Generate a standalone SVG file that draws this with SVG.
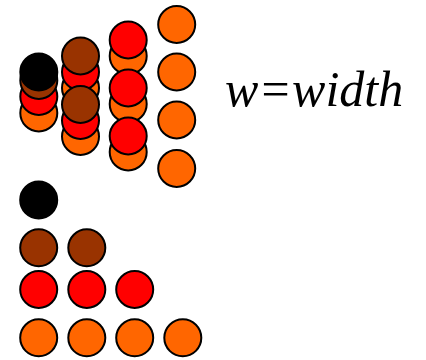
<svg xmlns="http://www.w3.org/2000/svg" width="426" height="360" viewBox="0 0 426 360">
<style>
circle{stroke:#000;stroke-width:2}
.o{fill:#FF6600}.r{fill:#FF0000}.b{fill:#993300}.k{fill:#000}
text{font-family:"Liberation Serif","Times New Roman",serif;font-style:italic;font-size:50px;fill:#000}
</style>
<rect width="426" height="360" fill="#fff"/>
<g id="stack-col1">
<circle class="o" cx="38.8" cy="113" r="18.5"/>
<circle class="r" cx="38.8" cy="96.5" r="18.5"/>
<circle class="b" cx="38.8" cy="80.5" r="18.5"/>
<circle class="k" cx="38.8" cy="72" r="18.5"/>
</g>
<g id="stack-col2">
<circle class="o" cx="80.5" cy="88" r="18.5"/>
<circle class="r" cx="80.5" cy="72" r="18.5"/>
<circle class="b" cx="80.5" cy="56" r="18.5"/>
<circle class="o" cx="80.5" cy="136.5" r="18.5"/>
<circle class="r" cx="80.5" cy="120.5" r="18.5"/>
<circle class="b" cx="80.5" cy="104.5" r="18.5"/>
</g>
<g id="stack-col3">
<circle class="o" cx="128.2" cy="56" r="18.5"/>
<circle class="r" cx="128.2" cy="40" r="18.5"/>
<circle class="o" cx="128.2" cy="104" r="18.5"/>
<circle class="r" cx="128.2" cy="88" r="18.5"/>
<circle class="o" cx="128.2" cy="152" r="18.5"/>
<circle class="r" cx="128.2" cy="136" r="18.5"/>
</g>
<g id="stack-col4">
<circle class="o" cx="176.7" cy="24.5" r="18.5"/>
<circle class="o" cx="176.7" cy="72" r="18.5"/>
<circle class="o" cx="176.7" cy="120" r="18.5"/>
<circle class="o" cx="176.7" cy="168.5" r="18.5"/>
</g>
<g id="pyramid">
<circle class="k" cx="38.7" cy="200" r="18.5"/>
<circle class="b" cx="38.7" cy="247.8" r="18.5"/>
<circle class="b" cx="86.8" cy="247.8" r="18.5"/>
<circle class="r" cx="38.7" cy="289.5" r="18.5"/>
<circle class="r" cx="86.8" cy="289.5" r="18.5"/>
<circle class="r" cx="134.7" cy="289.5" r="18.5"/>
<circle class="o" cx="38.7" cy="337.8" r="18.5"/>
<circle class="o" cx="86.8" cy="337.8" r="18.5"/>
<circle class="o" cx="134.7" cy="337.8" r="18.5"/>
<circle class="o" cx="182.8" cy="337.8" r="18.5"/>
</g>
<g id="label">
<text x="225" y="106">w=width</text>
</g>
</svg>
